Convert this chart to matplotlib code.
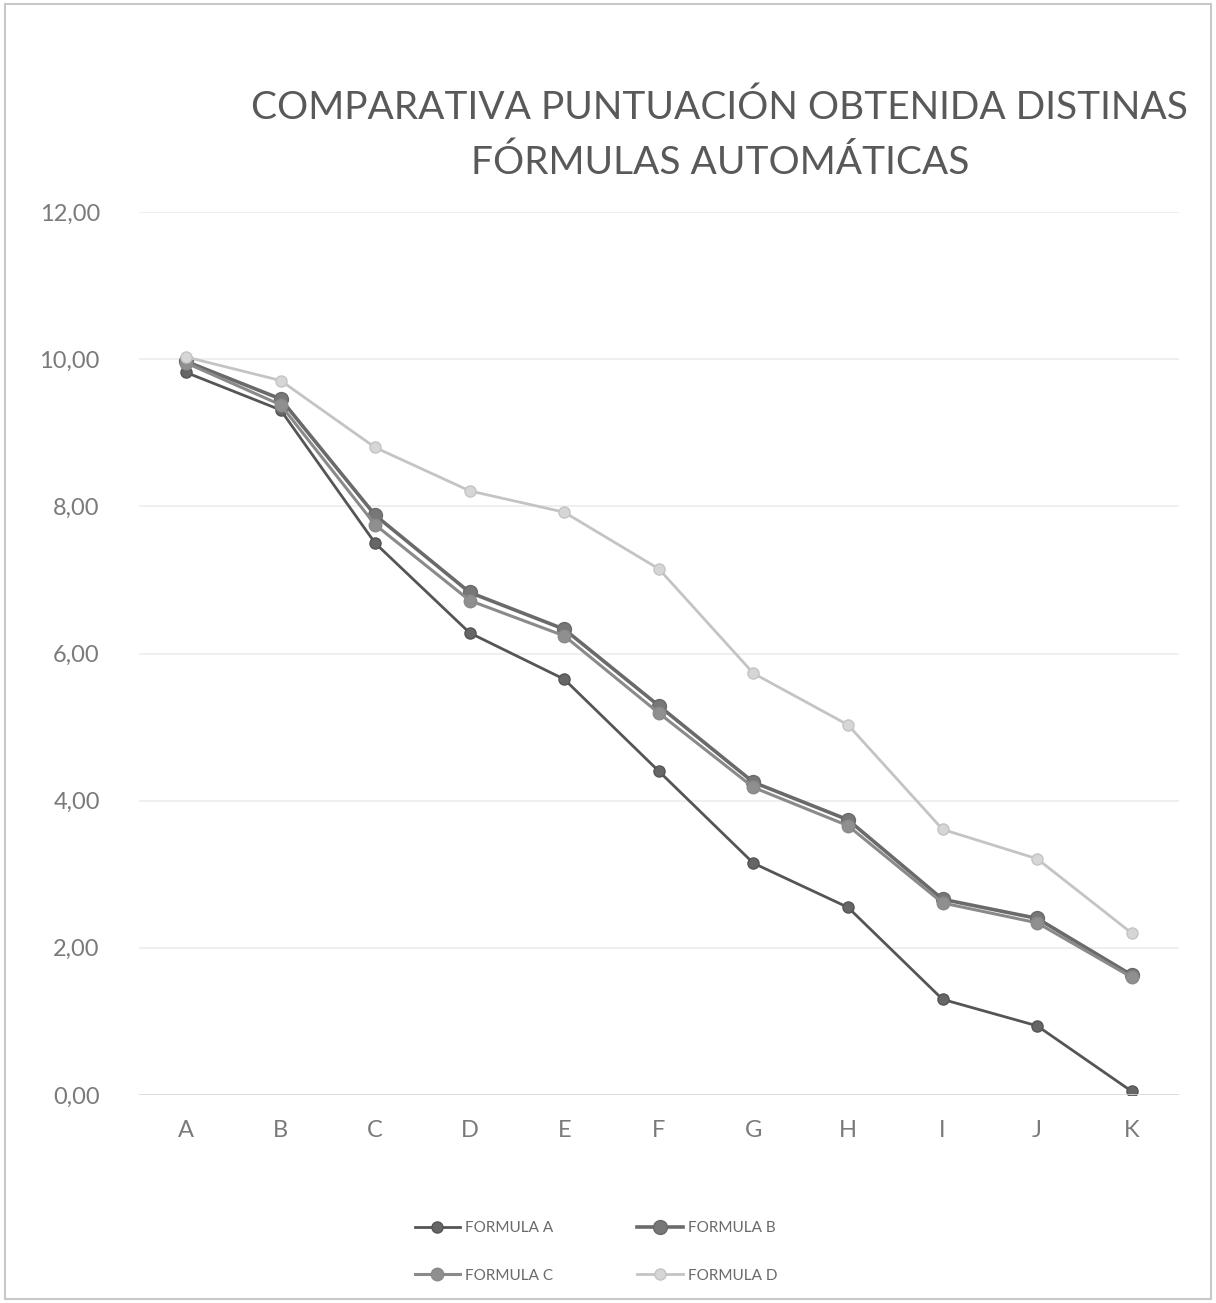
import matplotlib
matplotlib.use('Agg')
import matplotlib.pyplot as plt
from matplotlib.patches import Rectangle

# datos
categories = ['A', 'B', 'C', 'D', 'E', 'F', 'G', 'H', 'I', 'J', 'K']
formula_a = [9.82, 9.31, 7.50, 6.28, 5.65, 4.40, 3.15, 2.55, 1.30, 0.94, 0.05]
formula_b = [9.97, 9.46, 7.88, 6.83, 6.33, 5.29, 4.25, 3.74, 2.66, 2.40, 1.63]
formula_c = [9.95, 9.38, 7.75, 6.72, 6.24, 5.19, 4.18, 3.66, 2.61, 2.34, 1.60]
formula_d = [10.03, 9.71, 8.80, 8.21, 7.92, 7.15, 5.73, 5.03, 3.61, 3.21, 2.20]
series_names = ['FORMULA A', 'FORMULA B', 'FORMULA C', 'FORMULA D']
y_ticks = [0, 2, 4, 6, 8, 10, 12]

plt.rcParams['font.family'] = ['Lato', 'DejaVu Sans']

W, H = 1216, 1303
fig = plt.figure(figsize=(W / 100, H / 100), dpi=100)
fig.patches.append(Rectangle((0.004, 0.003), 0.992, 0.994, transform=fig.transFigure,
                             fill=False, edgecolor='#c8c8c8', linewidth=1.5))

left, right, bottom, top = 138.7, 1179, 1095, 212
ax = fig.add_axes([left / W, 1 - bottom / H, (right - left) / W, (bottom - top) / H])

styles = [
    ('#555555', '#666666', 2.0, 8),
    ('#6a6a6a', '#777777', 2.6, 10),
    ('#8a8a8a', '#8f8f8f', 2.2, 9),
    ('#c4c4c4', '#d6d6d6', 2.0, 8),
]
data = [formula_a, formula_b, formula_c, formula_d]
x = list(range(len(categories)))
lines = []
for name, vals, (lc, mc, lw, ms) in zip(series_names, data, styles):
    ln, = ax.plot(x, vals, color=lc, linewidth=lw, marker='o', markersize=ms,
                  markerfacecolor=mc, markeredgecolor=lc, label=name)
    lines.append(ln)

ax.set_xlim(-0.5, len(categories) - 0.5)
ax.set_ylim(0, 12)
ax.set_yticks(y_ticks)
ax.set_yticklabels([f'{v:.2f}'.replace('.', ',') for v in y_ticks])
ax.set_xticks(x)
ax.set_xticklabels(categories)
ax.tick_params(axis='both', length=0, labelsize=17, labelcolor='#7a7a7a', pad=18)
ax.tick_params(axis='y', pad=28)
ax.grid(axis='y', color='#ececec', linewidth=1.2)
ax.set_axisbelow(True)
for s in ax.spines.values():
    s.set_visible(False)
ax.axhline(0, color='#d9d9d9', linewidth=1.2)

fig.text(0.592, 1 - 108 / H, 'COMPARATIVA PUNTUACIÓN OBTENIDA DISTINAS',
         ha='center', va='center', fontsize=28, color='#595959')
fig.text(0.592, 1 - 163 / H, 'FÓRMULAS AUTOMÁTICAS',
         ha='center', va='center', fontsize=28, color='#595959')

# orden de la leyenda: A B / C D
order = [0, 2, 1, 3]
fig.legend([lines[i] for i in order], [series_names[i] for i in order],
           loc='center', bbox_to_anchor=(0.49, 1 - 1252 / H), ncol=2, frameon=False,
           fontsize=11, labelcolor='#6a6a6a', columnspacing=5.5, handlelength=3,
           handletextpad=0.3, labelspacing=2.2)

fig.savefig('out.png', dpi=100)
